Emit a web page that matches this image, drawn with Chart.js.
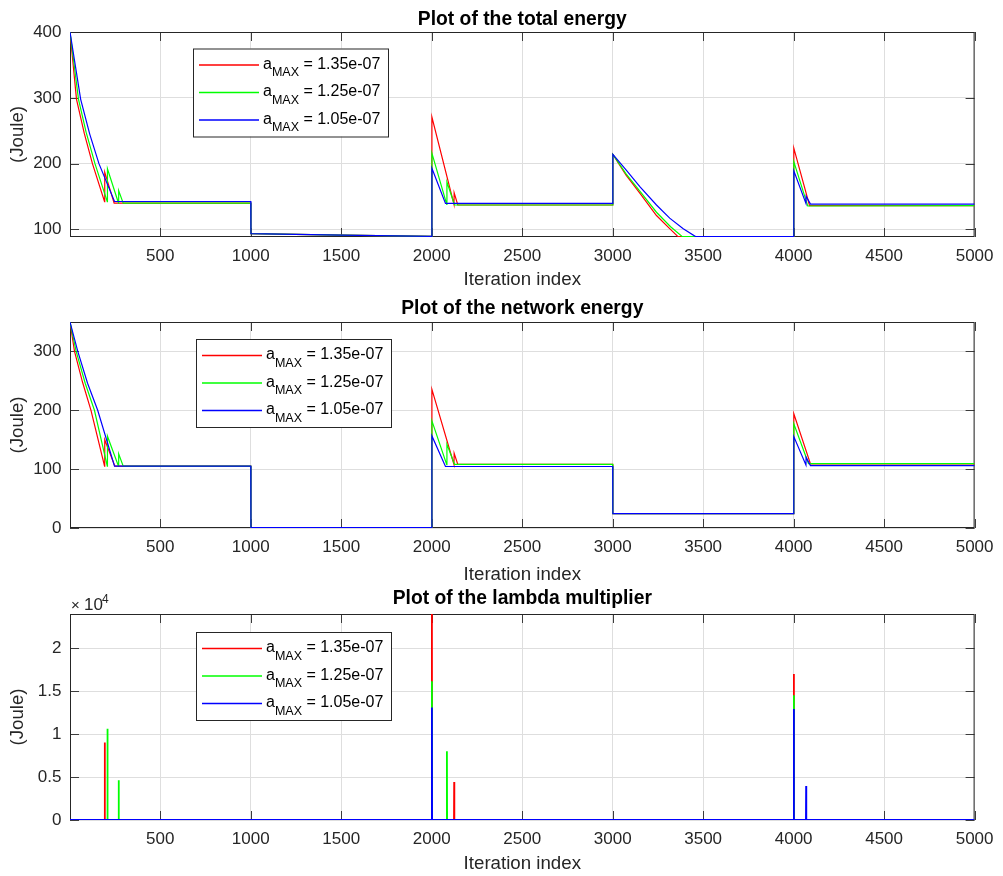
<!DOCTYPE html>
<html>
<head>
<meta charset="utf-8">
<script src="https://cdn.jsdelivr.net/npm/chart.js@4.4.1/dist/chart.umd.min.js"></script>
<style>
  body { margin: 0; background: #fff; width: 1003px; height: 876px; position: relative; overflow: hidden; }
  canvas { position: absolute; left: 0; }
</style>
</head>
<body>
<canvas id="total" width="1003" height="292" style="top:0px"></canvas>
<canvas id="network" width="1003" height="292" style="top:295px"></canvas>
<canvas id="lambda" width="1003" height="291" style="top:585px"></canvas>
<script>
// Tick values and legend labels
const xTicks = [500, 1000, 1500, 2000, 2500, 3000, 3500, 4000, 4500, 5000];
const totalTicks = [100, 200, 300, 400];
const networkTicks = [0, 100, 200, 300];
const lambdaTicks = [0, 5000, 10000, 15000, 20000];
const seriesNames = ['1.35e-07', '1.25e-07', '1.05e-07'];
const seriesColors = ['#ff0000', '#00ff00', '#0000ff'];

// Total energy, [iteration, value]
const totalRed = [[1, 400.5], [37, 298], [80, 246], [125, 200], [192, 142], [193, 187], [245, 139.8],
  [1000, 139.8], [1001, 93.5], [1500, 91.2], [2000, 89.3], [2001, 271], [2123, 138], [2124, 155.6],
  [2144, 137], [3000, 137], [3001, 214], [3075, 182], [3150, 155], [3242, 121], [3315, 101], [3361, 88.9],
  [4000, 88.9], [4001, 223.6], [4088, 136], [5000, 136]];
const totalGreen = [[1, 400.5], [48, 298], [90, 248], [139, 200], [207, 142], [208, 192], [269, 140],
  [270, 159], [295, 139.8], [1000, 139.8], [1001, 93.5], [1500, 91.2], [2000, 89.3], [2001, 216],
  [2083, 138], [2084, 172], [2126, 137], [3000, 137], [3001, 214], [3075, 184], [3150, 158], [3242, 126],
  [3320, 104], [3385, 88.9], [4000, 88.9], [4001, 203], [4078, 135.5], [5000, 136]];
const totalBlue = [[1, 400.5], [60, 298], [110, 245], [161, 200], [247, 142.4], [1000, 142.4],
  [1001, 93.5], [1500, 91.2], [2000, 89.3], [2001, 193], [2076, 139.4], [3000, 139.4], [3001, 214],
  [3075, 190], [3150, 165], [3242, 137], [3315, 117], [3390, 101], [3458, 88.9], [4000, 88.9],
  [4001, 189], [4068, 139.4], [4069, 150.5], [4093, 138.4], [5000, 138.4]];

// Network energy
const networkRed = [[1, 350], [26, 300], [70, 248], [117, 200], [192, 105], [193, 150], [249, 105.1],
  [1000, 105.1], [1001, 0.5], [2000, 0.5], [2001, 235.6], [2123, 108], [2124, 127], [2144, 108],
  [3000, 108], [3001, 24.5], [4000, 24.5], [4001, 194], [4093, 109], [5000, 109]];
const networkGreen = [[1, 350], [35, 300], [85, 246], [136, 200], [207, 105], [208, 156], [269, 105],
  [270, 126], [295, 105.1], [1000, 105.1], [1001, 0.5], [2000, 0.5], [2001, 182], [2083, 107.5],
  [2084, 142.4], [2126, 108], [3000, 108], [3001, 24.5], [4000, 24.5], [4001, 177], [4082, 109.5],
  [5000, 109.5]];
const networkBlue = [[1, 350], [44, 300], [98, 246], [154, 200], [247, 105.1], [1000, 105.1],
  [1001, 0.5], [2000, 0.5], [2001, 156.4], [2076, 104.5], [3000, 104.5], [3001, 24.5], [4000, 24.5],
  [4001, 155.3], [4068, 107], [4069, 120], [4093, 106], [5000, 106]];

// Lambda multiplier
const lambdaRed = [[1, 0], [192, 0], [193, 9035], [194, 0], [2000, 0], [2001, 24000], [2002, 0],
  [2123, 0], [2124, 4420], [2125, 0], [4000, 0], [4001, 17010], [4002, 0], [5000, 0]];
const lambdaGreen = [[1, 0], [207, 0], [208, 10640], [209, 0], [269, 0], [270, 4643], [271, 0],
  [2000, 0], [2001, 16160], [2002, 0], [2083, 0], [2084, 8020], [2085, 0], [4000, 0], [4001, 14530],
  [4002, 0], [5000, 0]];
const lambdaBlue = [[1, 0], [2000, 0], [2001, 13100], [2002, 0], [4000, 0], [4001, 12940], [4002, 0],
  [4068, 0], [4069, 3950], [4070, 0], [5000, 0]];

const FONT = "'Liberation Sans', Arial, Helvetica, sans-serif";
const TEXT = '#262626';
const GRID = '#dedede';

// MATLAB-like box with inward ticks (under the lines), then title, legend and exponent on top
const matlabBox = {
  id: 'matlabBox',
  beforeDatasetsDraw(chart) {
    const { ctx, chartArea: a, scales: { x, y } } = chart;
    ctx.save();
    ctx.strokeStyle = '#3c3c3c';
    ctx.lineWidth = 1;
    ctx.beginPath();
    x.ticks.forEach(t => {
      const px = Math.round(x.getPixelForValue(t.value)) + 0.5;
      ctx.moveTo(px, a.bottom); ctx.lineTo(px, a.bottom - 9);
      ctx.moveTo(px, a.top); ctx.lineTo(px, a.top + 9);
    });
    y.ticks.forEach(t => {
      const py = Math.round(y.getPixelForValue(t.value)) + 0.5;
      ctx.moveTo(a.left, py); ctx.lineTo(a.left + 9, py);
      ctx.moveTo(a.right, py); ctx.lineTo(a.right - 9, py);
    });
    ctx.stroke();
    ctx.strokeStyle = '#262626';
    ctx.strokeRect(a.left + 0.5, a.top + 0.5, a.right - a.left - 1, a.bottom - a.top - 1);
    ctx.restore();
  },
  afterDraw(chart, args, opts) {
    const { ctx, chartArea: a } = chart;
    ctx.save();

    // title, centred on the plot area
    ctx.fillStyle = '#000';
    ctx.font = 'bold 19.3px ' + FONT;
    ctx.textAlign = 'center';
    ctx.textBaseline = 'middle';
    ctx.fillText(opts.title, (a.left + a.right) / 2, a.top - opts.titleOffset);

    // legend
    const lx = a.left + opts.legendX, ly = a.top + opts.legendY;
    ctx.fillStyle = '#fff';
    ctx.fillRect(lx, ly, 195, 88);
    ctx.strokeStyle = '#262626';
    ctx.lineWidth = 1;
    ctx.strokeRect(lx + 0.5, ly + 0.5, 195, 88);
    ctx.textBaseline = 'alphabetic';
    ctx.textAlign = 'left';
    seriesNames.forEach((name, i) => {
      const ry = ly + 16.5 + i * 27.5;
      ctx.strokeStyle = seriesColors[i];
      ctx.lineWidth = 1.4;
      ctx.beginPath();
      ctx.moveTo(lx + 6, ry); ctx.lineTo(lx + 66, ry);
      ctx.stroke();
      ctx.fillStyle = '#000';
      let tx = lx + 70;
      ctx.font = '16px ' + FONT;
      ctx.fillText('a', tx, ry + 3.5);
      tx += ctx.measureText('a').width;
      ctx.font = '12.5px ' + FONT;
      ctx.fillText('MAX', tx, ry + 11);
      tx += ctx.measureText('MAX').width;
      ctx.font = '16px ' + FONT;
      ctx.fillText(' = ' + name, tx, ry + 3.5);
    });

    if (opts.exponent) {
      ctx.fillStyle = TEXT;
      ctx.font = '15px ' + FONT;
      ctx.fillText('\u00d7', a.left + 1, a.top - 4);
      ctx.font = '17px ' + FONT;
      ctx.fillText('10', a.left + 14, a.top - 4);
      ctx.font = '12px ' + FONT;
      ctx.fillText('4', a.left + 32, a.top - 11);
    }
    ctx.restore();
  }
};

function makePanel(id, cfg) {
  const toPoints = arr => arr.map(p => ({ x: p[0], y: p[1] }));
  return new Chart(document.getElementById(id), {
    type: 'line',
    data: {
      datasets: cfg.series.map((s, i) => ({
        label: seriesNames[i],
        data: toPoints(s),
        borderColor: seriesColors[i],
        borderWidth: cfg.lineWidth,
        pointRadius: 0,
        tension: 0,
        fill: false,
        order: 3 - i
      }))
    },
    options: {
      responsive: false,
      animation: false,
      events: [],
      layout: { padding: { left: 0, right: 23, top: cfg.top, bottom: 0 } },
      plugins: {
        legend: { display: false },
        tooltip: { enabled: false },
        title: { display: false },
        matlabBox: { title: cfg.title, titleOffset: cfg.titleOffset,
                     legendX: cfg.legendX, legendY: cfg.legendY, exponent: cfg.exponent }
      },
      scales: {
        x: {
          type: 'linear', min: 1, max: 5000,
          afterFit: s => { s.height = cfg.xHeight; },
          afterBuildTicks: s => { s.ticks = xTicks.map(v => ({ value: v })); },
          ticks: { font: { family: FONT, size: 17 }, color: TEXT, padding: 9.5, maxRotation: 0, autoSkip: false,
                   callback: v => String(v) },
          grid: { color: GRID, drawTicks: false },
          border: { display: false },
          title: { display: true, text: 'Iteration index', color: TEXT,
                   font: { family: FONT, size: 18.7 }, padding: { top: 0, bottom: 0.8 } }
        },
        y: {
          type: 'linear', min: cfg.yMin, max: cfg.yMax,
          afterFit: s => { s.width = 70; },
          afterBuildTicks: s => { s.ticks = cfg.yTicks.map(v => ({ value: v })); },
          ticks: { font: { family: FONT, size: 17 }, color: TEXT, padding: 8.5,
                   callback: cfg.yFormat },
          grid: { color: GRID, drawTicks: false },
          border: { display: false },
          title: { display: true, text: '(Joule)', color: TEXT,
                   font: { family: FONT, size: 18.7 }, padding: { top: 7, bottom: 0 } }
        }
      }
    },
    plugins: [matlabBox]
  });
}

makePanel('total', {
  title: 'Plot of the total energy',
  series: [totalRed, totalGreen, totalBlue],
  lineWidth: 1.2,
  yMin: 88.3, yMax: 400.5, yTicks: totalTicks, yFormat: v => String(v),
  top: 32, titleOffset: 12, xHeight: 55,
  legendX: 123, legendY: 16.5, exponent: false
});
makePanel('network', {
  title: 'Plot of the network energy',
  series: [networkRed, networkGreen, networkBlue],
  lineWidth: 1.2,
  yMin: 0, yMax: 350, yTicks: networkTicks, yFormat: v => String(v),
  top: 27, titleOffset: 13, xHeight: 59,
  legendX: 126, legendY: 17, exponent: false
});
makePanel('lambda', {
  title: 'Plot of the lambda multiplier',
  series: [lambdaRed, lambdaGreen, lambdaBlue],
  lineWidth: 1.8,
  yMin: 0, yMax: 24000, yTicks: lambdaTicks, yFormat: v => String(v / 10000),
  top: 29, titleOffset: 15, xHeight: 56,
  legendX: 126, legendY: 18, exponent: true
});
</script>
</body>
</html>
